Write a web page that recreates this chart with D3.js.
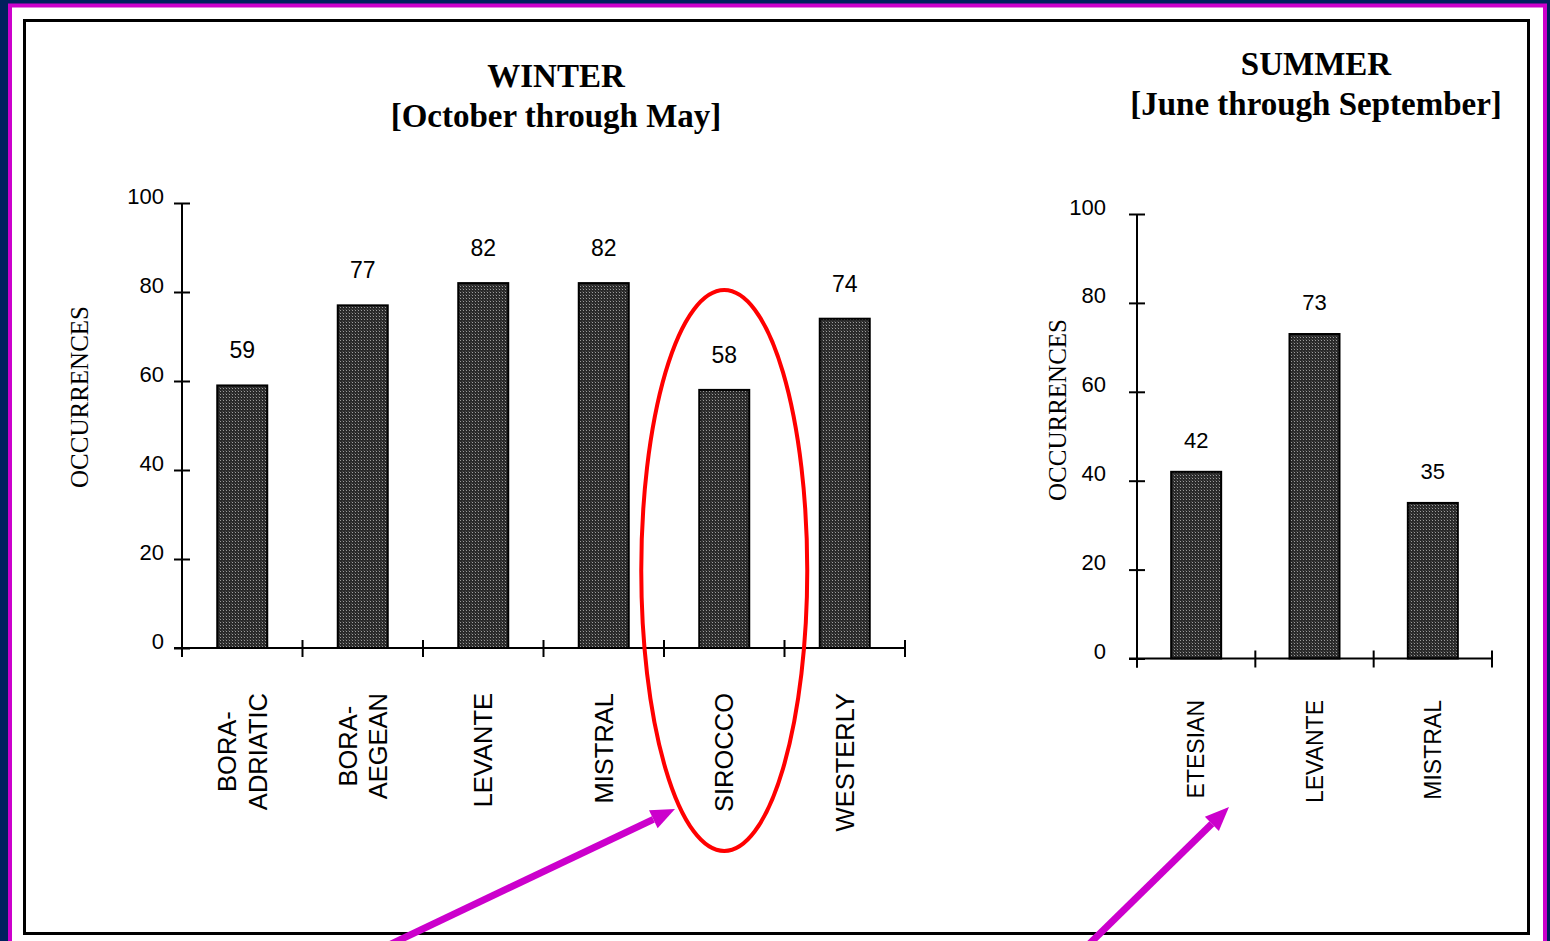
<!DOCTYPE html>
<html>
<head>
<meta charset="utf-8">
<script src="https://cdn.jsdelivr.net/npm/d3@7"></script>
<style>
  html, body { margin: 0; padding: 0; background: #00205e; overflow: hidden; }
  svg { display: block; }
</style>
</head>
<body>
<svg id="chart" width="1550" height="941"></svg>
<script>
// Wind event counts by season
const winterCategories = [["BORA-", "ADRIATIC"], ["BORA-", "AEGEAN"], ["LEVANTE"], ["MISTRAL"], ["SIROCCO"], ["WESTERLY"]];
const winterValues = [59, 77, 82, 82, 58, 74];
const summerCategories = [["ETESIAN"], ["LEVANTE"], ["MISTRAL"]];
const summerValues = [42, 73, 35];
const yTickValues = [0, 20, 40, 60, 80, 100];
const winterTitle = ["WINTER", "[October through May]"];
const summerTitle = ["SUMMER", "[June through September]"];
const yAxisTitle = "OCCURRENCES";

const svg = d3.select("#chart");
const SANS = "'Liberation Sans', Arial, sans-serif";
const SERIF = "'Liberation Serif', 'Times New Roman', serif";

// stippled halftone fill used by the bars
const defs = svg.append("defs");
const pat = defs.append("pattern")
  .attr("id", "stipple").attr("patternUnits", "userSpaceOnUse")
  .attr("width", 3).attr("height", 3);
pat.append("rect").attr("width", 3).attr("height", 3).attr("fill", "#2a2a2a");
pat.append("rect").attr("x", 1).attr("y", 1).attr("width", 1).attr("height", 1).attr("fill", "#9c9c9c");
pat.append("rect").attr("x", 0).attr("y", 0).attr("width", 1).attr("height", 1).attr("fill", "#4a4a4a");

// page border and white panel
svg.append("rect").attr("x", 10).attr("y", 5.5).attr("width", 1535).attr("height", 960)
  .attr("fill", "#ffffff").attr("stroke", "#cc00cc").attr("stroke-width", 4);
svg.append("rect").attr("x", 24.5).attr("y", 20.5).attr("width", 1504).attr("height", 913)
  .attr("fill", "none").attr("stroke", "#000").attr("stroke-width", 3);

function drawPanel(opts) {
  const { cats, vals, axisX, xRight, y0, y100, barW, title, titleX, titleY, titleGap,
          catSize, catTop, valSize, valGap, yTitleX, yTitleY, tickPad } = opts;
  const g = svg.append("g");

  const y = d3.scaleLinear().domain([0, 100]).range([y0, y100]);
  const n = cats.length;
  const step = (xRight - axisX) / n;
  const pad = 1 - barW / step;
  const x = d3.scaleBand().domain(d3.range(n)).range([axisX, xRight])
    .paddingInner(pad).paddingOuter(pad / 2);

  // titles
  title.forEach((t, i) => {
    g.append("text").attr("x", titleX).attr("y", titleY + i * titleGap)
      .attr("text-anchor", "middle").attr("font-family", SERIF)
      .attr("font-weight", "bold").attr("font-size", 33).attr("fill", "#000").text(t);
  });

  // bars
  g.selectAll("rect.bar").data(vals).join("rect").attr("class", "bar")
    .attr("x", (d, i) => x(i)).attr("width", x.bandwidth())
    .attr("y", d => y(d)).attr("height", d => y(0) - y(d))
    .attr("fill", "url(#stipple)").attr("stroke", "#000").attr("stroke-width", 2);

  // value labels
  g.selectAll("text.val").data(vals).join("text").attr("class", "val")
    .attr("x", (d, i) => x(i) + x.bandwidth() / 2).attr("y", d => y(d) - valGap)
    .attr("text-anchor", "middle").attr("font-family", SANS).attr("font-size", valSize)
    .attr("fill", "#000").text(d => d);

  // y axis, ticks crossing the spine
  const yAxis = g.append("g").attr("transform", `translate(${axisX},0)`)
    .call(d3.axisLeft(y).tickValues(yTickValues).tickSize(8).tickSizeOuter(0).tickPadding(tickPad));
  yAxis.select(".domain").attr("stroke", "#000").attr("stroke-width", 2)
    .attr("d", `M0,${y100}V${y0 + 9}`);
  yAxis.selectAll(".tick line").attr("x1", 8).attr("x2", -8).attr("stroke", "#000").attr("stroke-width", 2);
  yAxis.selectAll(".tick text").attr("dy", 0).attr("font-family", SANS)
    .attr("font-size", 22).attr("fill", "#000");

  // x axis with ticks at the category boundaries
  const xAxis = g.append("g").attr("transform", `translate(0,${y0})`)
    .call(d3.axisBottom(x).tickSize(0).tickSizeOuter(0).tickFormat(""));
  xAxis.select(".domain").attr("stroke", "#000").attr("stroke-width", 2)
    .attr("d", `M${axisX - 8},0H${xRight}`);
  const bounds = d3.range(n + 1).map(i => (i < n ? x(i) - (x.step() - x.bandwidth()) / 2 : xRight));
  xAxis.selectAll("line.bound").data(bounds).join("line").attr("class", "bound")
    .attr("x1", d => d).attr("x2", d => d).attr("y1", -8).attr("y2", 9)
    .attr("stroke", "#000").attr("stroke-width", 2);

  // rotated category labels
  const capH = catSize * 0.716;
  const lineGap = catSize * 1.2;
  cats.forEach((lines, i) => {
    const cx = x(i) + x.bandwidth() / 2;
    const lg = g.append("g").attr("transform", `translate(${cx},${catTop}) rotate(-90)`);
    const t = lg.append("text").attr("font-family", SANS).attr("font-size", catSize)
      .attr("fill", "#000").attr("text-anchor", "middle");
    const blockH = capH + (lines.length - 1) * lineGap;
    lines.forEach((s, k) => {
      t.append("tspan").attr("y", -blockH / 2 + capH + k * lineGap).text(s);
    });
    let L = 0;
    t.selectAll("tspan").each(function () { L = Math.max(L, this.getComputedTextLength()); });
    t.selectAll("tspan").attr("x", -L / 2);
  });

  // y axis title
  g.append("text").attr("transform", `translate(${yTitleX},${yTitleY}) rotate(-90)`)
    .attr("text-anchor", "middle").attr("font-family", SERIF).attr("font-size", 25)
    .attr("fill", "#000").text(yAxisTitle);

  return x;
}

const xW = drawPanel({
  cats: winterCategories, vals: winterValues, axisX: 182, xRight: 905,
  y0: 648, y100: 203, barW: 50, title: winterTitle, titleX: 556, titleY: 87, titleGap: 40,
  catSize: 25.5, catTop: 693, valSize: 23, valGap: 27, yTitleX: 88, yTitleY: 397, tickPad: 10
});

drawPanel({
  cats: summerCategories, vals: summerValues, axisX: 1137, xRight: 1492,
  y0: 658.5, y100: 214, barW: 50, title: summerTitle, titleX: 1316, titleY: 75, titleGap: 40,
  catSize: 23, catTop: 700, valSize: 22, valGap: 24, yTitleX: 1066, yTitleY: 410, tickPad: 23
});

// highlight around SIROCCO
svg.append("ellipse")
  .attr("cx", xW(4) + xW.bandwidth() / 2).attr("cy", 570.5).attr("rx", 83).attr("ry", 280.5)
  .attr("fill", "none").attr("stroke", "#ff0000").attr("stroke-width", 4);

// pointer arrows
function arrow(x1, y1, x2, y2) {
  const ang = Math.atan2(y2 - y1, x2 - x1);
  const head = 24, half = 10;
  const bx = x2 - head * Math.cos(ang), by = y2 - head * Math.sin(ang);
  svg.append("line").attr("x1", x1).attr("y1", y1).attr("x2", bx).attr("y2", by)
    .attr("stroke", "#cc00cc").attr("stroke-width", 7);
  const px = -Math.sin(ang) * half, py = Math.cos(ang) * half;
  svg.append("polygon")
    .attr("points", `${x2},${y2} ${bx + px},${by + py} ${bx - px},${by - py}`)
    .attr("fill", "#cc00cc");
}
arrow(368, 955, 675, 809);
arrow(1078, 955, 1229, 807);
</script>
</body>
</html>
